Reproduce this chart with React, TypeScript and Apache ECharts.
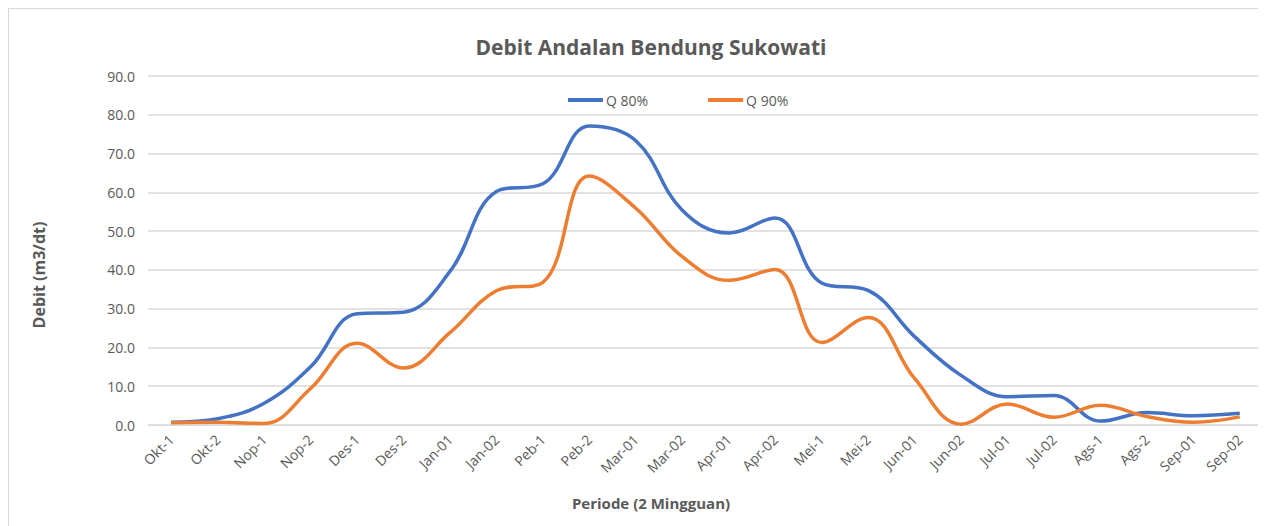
import React, { useEffect, useRef } from "react";
import * as echarts from "echarts";

const categories = [
  "Okt-1", "Okt-2", "Nop-1", "Nop-2", "Des-1", "Des-2", "Jan-01", "Jan-02",
  "Peb-1", "Peb-2", "Mar-01", "Mar-02", "Apr-01", "Apr-02", "Mei-1", "Mei-2",
  "Jun-01", "Jun-02", "Jul-01", "Jul-02", "Ags-1", "Ags-2", "Sep-01", "Sep-02",
];

const q80 = [
  0.7, 1.6, 5.6, 15.0, 28.7, 29.1, 39.6, 60.2, 62.2, 77.1, 73.3, 55.4,
  49.5, 53.4, 36.6, 34.7, 22.8, 12.8, 7.3, 7.6, 1.0, 3.2, 2.4, 3.0,
];

const q90 = [
  0.6, 0.7, 0.4, 9.4, 21.1, 14.7, 23.8, 34.6, 36.8, 64.2, 55.9, 43.4,
  37.3, 40.1, 21.3, 27.7, 12.0, 0.2, 5.4, 2.0, 5.1, 2.2, 0.7, 2.1,
];

const yTicks = { min: 0, max: 90, interval: 10 };

const FONT = "'Open Sans', sans-serif";
const GREY = "#595959";

export default function App() {
  const ref = useRef<HTMLDivElement>(null);

  useEffect(() => {
    if (!ref.current) return;
    const chart = echarts.init(ref.current, null, { renderer: "svg" });
    chart.setOption({
      animation: false,
      backgroundColor: "#ffffff",
      textStyle: { fontFamily: FONT },
      title: {
        text: "Debit Andalan Bendung Sukowati",
        left: 637,
        top: 22,
        textAlign: "center",
        textStyle: { fontFamily: FONT, fontSize: 21, fontWeight: "bold", color: GREY },
      },
      legend: {
        left: 554,
        top: 79,
        itemWidth: 35,
        itemHeight: 4,
        itemGap: 60,
        icon: "rect",
        textStyle: { fontFamily: FONT, fontSize: 14, color: GREY, padding: [0, 0, 0, -2] },
        data: ["Q 80%", "Q 90%"],
      },
      grid: { left: 139, right: 3, top: 67, bottom: 101, containLabel: false },
      xAxis: {
        type: "category",
        data: categories,
        boundaryGap: true,
        axisLine: { show: true, lineStyle: { color: "#d9d9d9", width: 1 } },
        axisTick: { show: false },
        axisLabel: {
          rotate: 45,
          margin: 12,
          interval: 0,
          fontFamily: FONT,
          fontSize: 14,
          color: GREY,
        },
      },
      yAxis: {
        type: "value",
        min: yTicks.min,
        max: yTicks.max,
        interval: yTicks.interval,
        axisLine: { show: false },
        axisTick: { show: false },
        splitLine: { lineStyle: { color: "#d9d9d9", width: 1.5 } },
        axisLabel: {
          margin: 13,
          fontFamily: FONT,
          fontSize: 14,
          color: GREY,
          formatter: (v: number) => v.toFixed(1),
        },
      },
      graphic: [
        {
          type: "text",
          x: 642,
          y: 494,
          style: {
            text: "Periode (2 Mingguan)",
            fontFamily: FONT,
            fontSize: 15,
            fontWeight: "bold",
            fill: GREY,
            align: "center",
            verticalAlign: "middle",
          },
        },
        {
          type: "text",
          x: 30,
          y: 266,
          rotation: Math.PI / 2,
          style: {
            text: "Debit (m3/dt)",
            fontFamily: FONT,
            fontSize: 16,
            fontWeight: "bold",
            fill: GREY,
            align: "center",
            verticalAlign: "middle",
          },
        },
      ],
      series: [
        {
          name: "Q 80%",
          type: "line",
          data: q80,
          smooth: 0.4,
          symbol: "none",
          lineStyle: { color: "#4472C4", width: 3.5 },
          itemStyle: { color: "#4472C4" },
        },
        {
          name: "Q 90%",
          type: "line",
          data: q90,
          smooth: 0.4,
          symbol: "none",
          lineStyle: { color: "#ED7D31", width: 3.5 },
          itemStyle: { color: "#ED7D31" },
        },
      ],
    });
    return () => chart.dispose();
  }, []);

  return (
    <div
      ref={ref}
      style={{
        width: 1258,
        height: 518,
        boxSizing: "border-box",
        borderLeft: "1px solid #d9d9d9",
        borderTop: "1.5px solid #d9d9d9",
      }}
    />
  );
}
